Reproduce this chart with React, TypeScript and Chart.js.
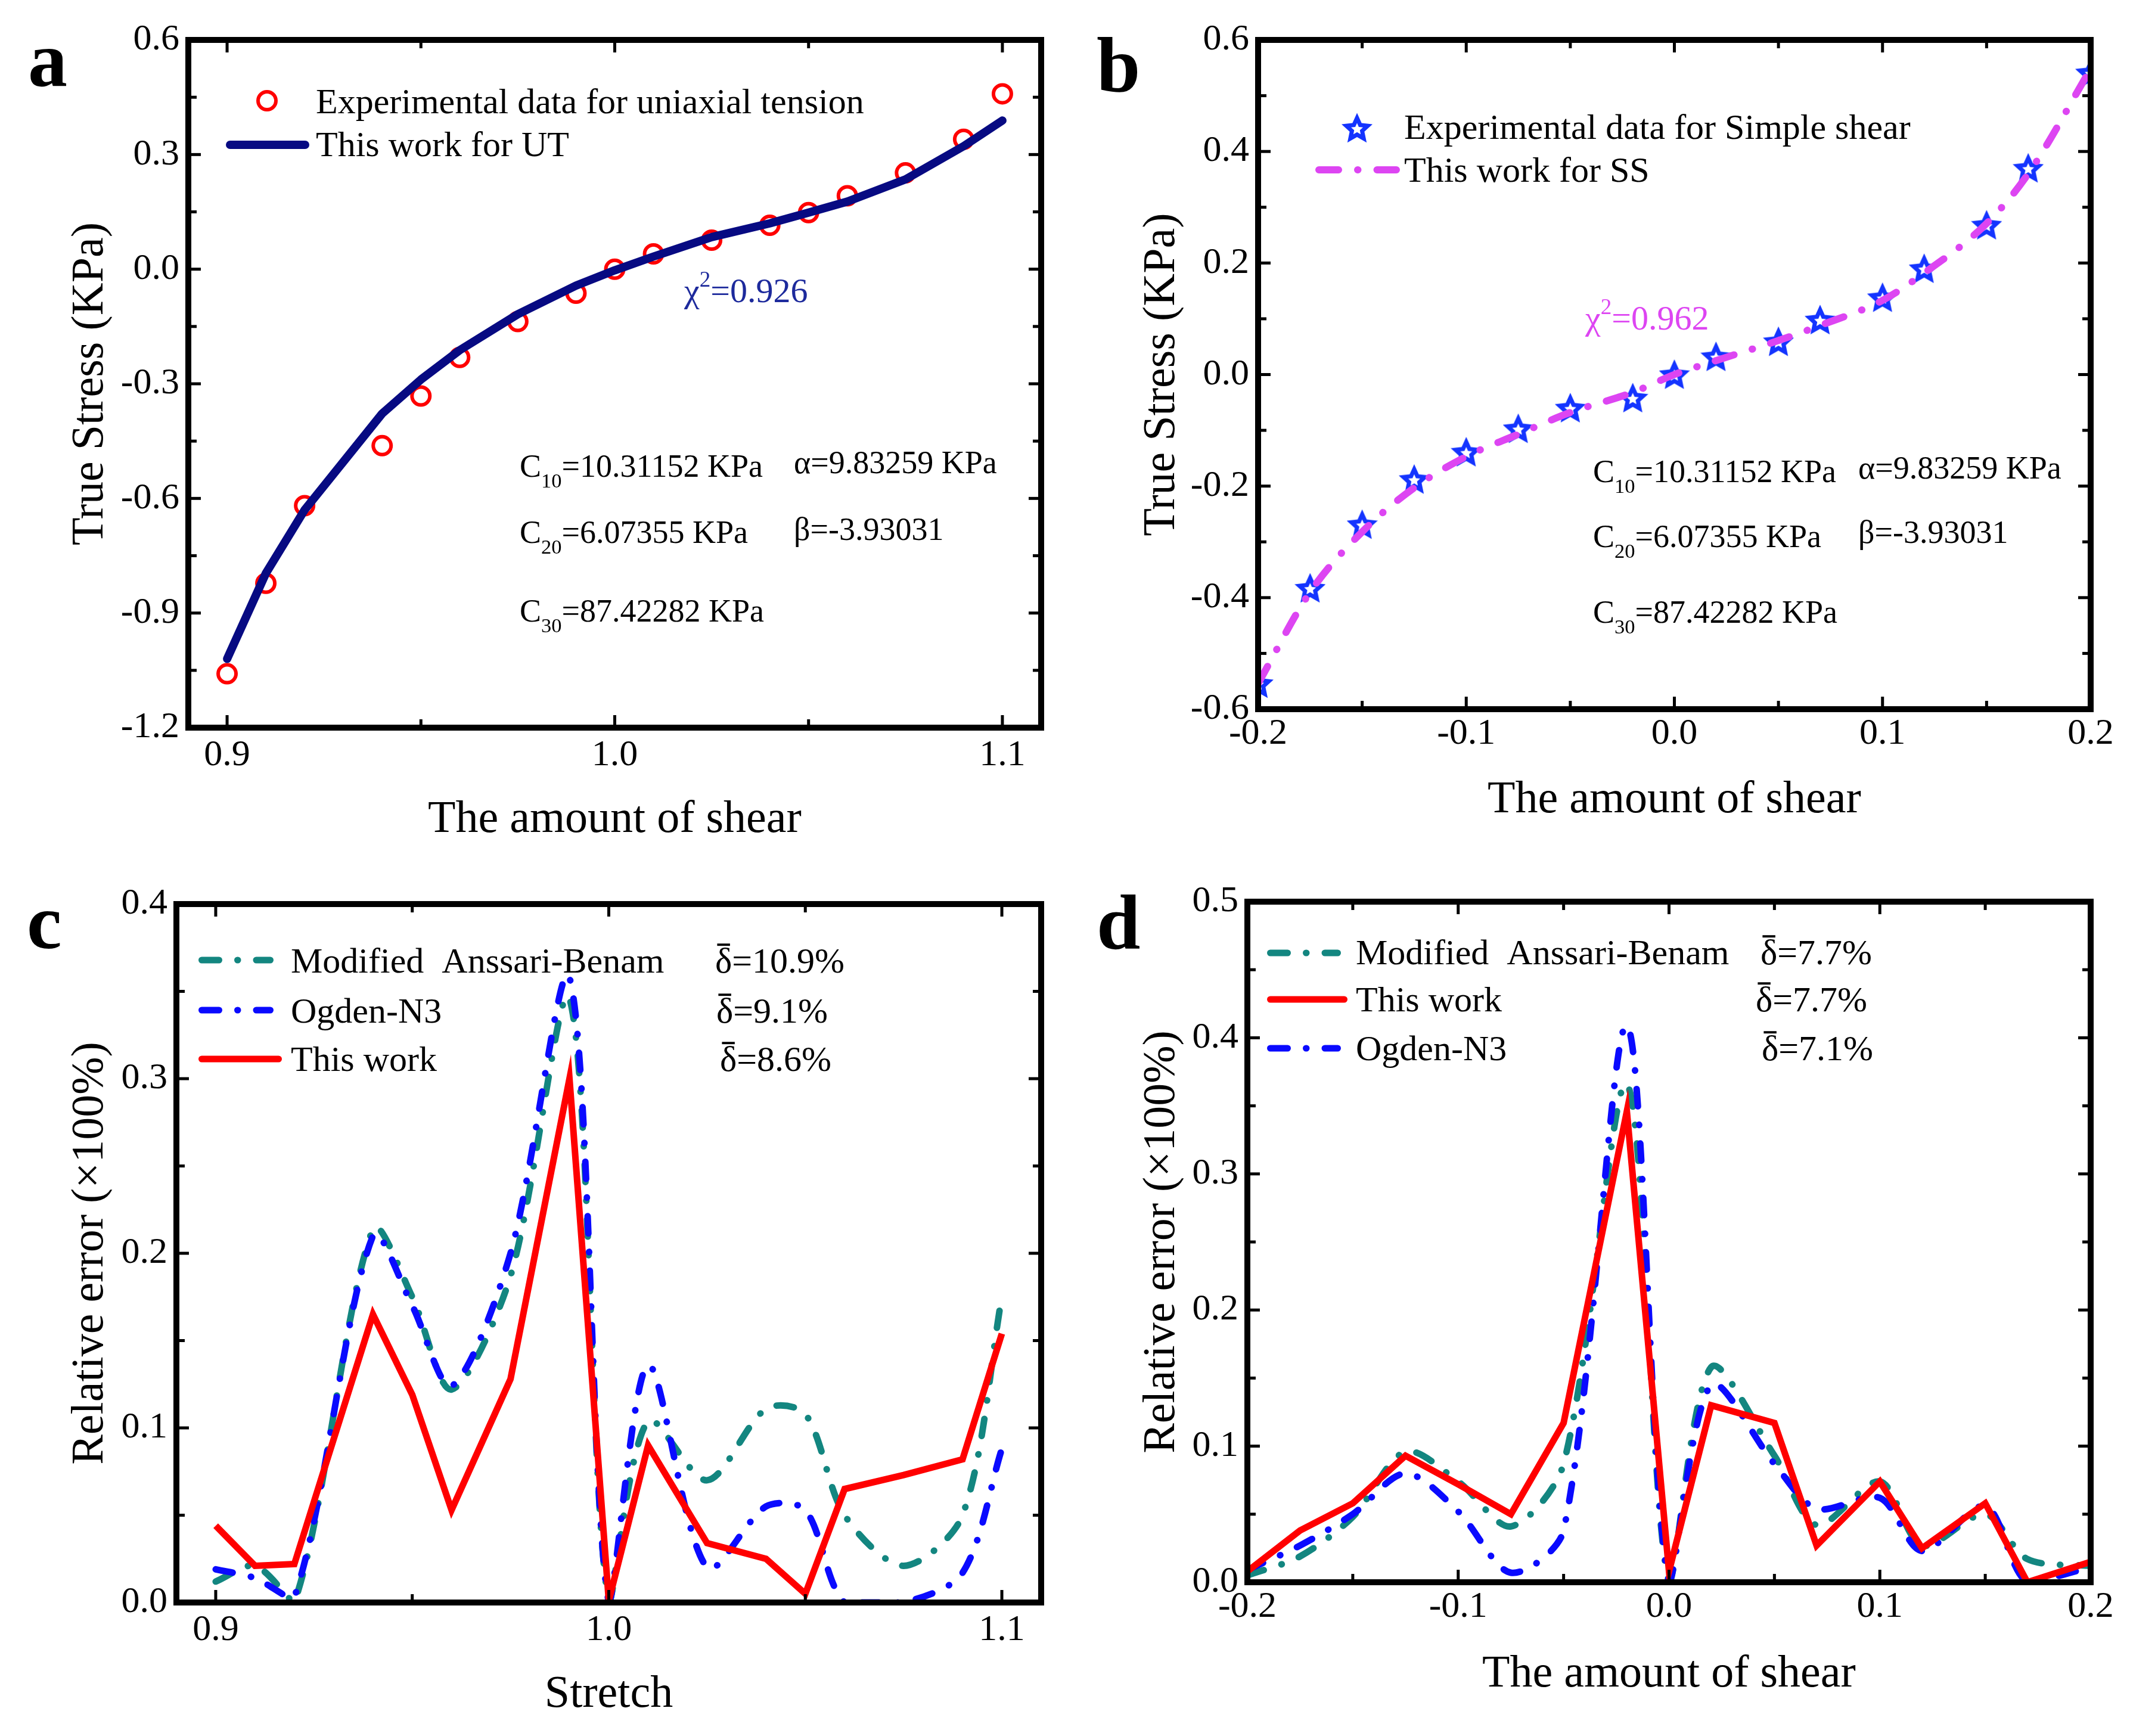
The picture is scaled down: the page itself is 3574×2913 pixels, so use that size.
import { useEffect, useRef } from "react";
import { Chart, registerables } from "chart.js";

Chart.register(...registerables);

const SERIF = '"Liberation Serif", "Times New Roman", Times, serif';
Chart.defaults.font.family = SERIF;
Chart.defaults.color = "#000";

// ---------- Panel a: uniaxial tension ----------
const utStretch = [0.9, 0.91, 0.92, 0.94, 0.95, 0.96, 0.975, 0.99, 1.0, 1.01, 1.025, 1.04, 1.05, 1.06, 1.075, 1.09, 1.1];
const utExperimental = [-1.059, -0.822, -0.619, -0.462, -0.332, -0.231, -0.137, -0.063, 0.0, 0.04, 0.076, 0.115, 0.148, 0.192, 0.252, 0.34, 0.459];
const utModel = [-1.02, -0.796, -0.63, -0.378, -0.289, -0.212, -0.118, -0.043, -0.003, 0.033, 0.084, 0.12, 0.148, 0.177, 0.235, 0.322, 0.389];

// ---------- Panel b: simple shear ----------
const ssShear = [-0.2, -0.175, -0.15, -0.125, -0.1, -0.075, -0.05, -0.02, 0, 0.02, 0.05, 0.07, 0.1, 0.12, 0.15, 0.17, 0.2];
const ssExperimental = [-0.554, -0.383, -0.269, -0.188, -0.139, -0.097, -0.06, -0.042, 0.0, 0.032, 0.059, 0.098, 0.138, 0.19, 0.268, 0.37, 0.541];
const ssModel = [-0.554, -0.39, -0.282, -0.203, -0.147, -0.107, -0.068, -0.032, 0.0, 0.025, 0.061, 0.088, 0.133, 0.182, 0.271, 0.36, 0.548];

// ---------- Panel c: relative error, uniaxial tension ----------
const errUtAnssari = [0.012, 0.021, 0.0, 0.214, 0.175, 0.122, 0.187, 0.346, 0.0, 0.104, 0.07, 0.111, 0.108, 0.05, 0.021, 0.05, 0.175];
const errUtOgden = [0.019, 0.014, 0.003, 0.21, 0.17, 0.124, 0.2, 0.358, 0.0, 0.136, 0.02, 0.055, 0.053, 0.0, 0.0, 0.017, 0.088];
const errUtThisWork = [0.044, 0.021, 0.022, 0.165, 0.119, 0.053, 0.128, 0.3, 0.001, 0.09, 0.034, 0.025, 0.005, 0.065, 0.073, 0.082, 0.154];

// ---------- Panel d: relative error, simple shear ----------
const errSsAnssari = [0.005, 0.019, 0.048, 0.096, 0.074, 0.041, 0.087, 0.366, 0.0, 0.158, 0.093, 0.042, 0.074, 0.027, 0.05, 0.017, 0.012];
const errSsThisWork = [0.008, 0.038, 0.058, 0.093, 0.072, 0.05, 0.117, 0.346, 0.008, 0.13, 0.117, 0.027, 0.074, 0.025, 0.058, 0.0, 0.015];
const errSsOgden = [0.009, 0.027, 0.05, 0.08, 0.052, 0.007, 0.038, 0.409, 0.0, 0.145, 0.087, 0.054, 0.062, 0.023, 0.056, 0.0, 0.011];

// ---------- Axis ticks ----------
const aXTicks = [0.9, 1.0, 1.1];
const aXMinor = [0.95, 1.05];
const aYTicks = [0.6, 0.3, 0, -0.3, -0.6, -0.9, -1.2];
const aYMinor = [0.45, 0.15, -0.15, -0.45, -0.75, -1.05];
const bXTicks = [-0.2, -0.1, 0, 0.1, 0.2];
const bXMinor = [-0.15, -0.05, 0.05, 0.15];
const bYTicks = [0.6, 0.4, 0.2, 0, -0.2, -0.4, -0.6];
const bYMinor = [0.5, 0.3, 0.1, -0.1, -0.3, -0.5];
const cXTicks = [0.9, 1.0, 1.1];
const cXMinor = [0.95, 1.05];
const cYTicks = [0, 0.1, 0.2, 0.3, 0.4];
const cYMinor = [0.05, 0.15, 0.25, 0.35];
const dXTicks = [-0.2, -0.1, 0, 0.1, 0.2];
const dXMinor = [-0.15, -0.05, 0.05, 0.15];
const dYTicks = [0, 0.1, 0.2, 0.3, 0.4, 0.5];
const dYMinor = [0.05, 0.15, 0.25, 0.35, 0.45];

// ---------- Styles ----------
const RED = "#ff0000";
const NAVY = "#070a82";
const MAGENTA = "#dd45f2";
const STAR_BLUE = "#1434ff";
const TEAL = "#138680";
const BLUE = "#0a0aff";
const CHI_BLUE = "#1d2a9c";
const DASH_SS = [33, 32, 0.5, 32];
const DASH_ERR = [29, 31, 0.5, 31];

type Run = { t: string; k?: "sub" | "sup" | "bar" };
type Note = { x: number; y: number; size: number; color: string; runs: Run[] };
type LegendItem = {
  sample: "circle" | "star" | "line";
  x0: number;
  x1: number;
  y: number;
  color: string;
  width?: number;
  dash?: number[];
  text: string;
  tx: number;
  ty: number;
};
type PanelSpec = {
  id: string;
  left: number;
  top: number;
  w: number;
  h: number;
  area: { left: number; top: number; right: number; bottom: number };
  xRange: [number, number];
  yRange: [number, number];
  xTicks: number[];
  xMinor: number[];
  yTicks: number[];
  yMinor: number[];
  xTitle: string;
  yTitle: string;
  xTitlePad: number;
  yTitlePad: number;
  xTickPad: number;
  letter: { t: string; x: number; y: number };
  legend: LegendItem[];
  notes: Note[];
  datasets: () => any[];
};

function pairs(xs: number[], ys: number[]) {
  return xs.map((x, i) => ({ x, y: ys[i] }));
}

let starCache: HTMLCanvasElement | null = null;
function starMarker(): HTMLCanvasElement {
  if (starCache) return starCache;
  const outer = 19;
  const inner = 9;
  const lw = 7;
  const size = Math.ceil(2 * outer + 2 * lw);
  const c = document.createElement("canvas");
  c.width = size;
  c.height = size;
  const g = c.getContext("2d")!;
  g.strokeStyle = STAR_BLUE;
  g.lineWidth = lw;
  g.lineJoin = "miter";
  g.miterLimit = 3;
  const cx = size / 2;
  const cy = size / 2 + outer * 0.1;
  g.beginPath();
  for (let i = 0; i < 10; i++) {
    const r = i % 2 === 0 ? outer : inner;
    const ang = -Math.PI / 2 + (i * Math.PI) / 5;
    const px = cx + r * Math.cos(ang);
    const py = cy + r * Math.sin(ang);
    if (i === 0) g.moveTo(px, py);
    else g.lineTo(px, py);
  }
  g.closePath();
  g.stroke();
  starCache = c;
  return c;
}

function drawRuns(ctx: CanvasRenderingContext2D, n: Note) {
  ctx.fillStyle = n.color;
  ctx.strokeStyle = n.color;
  ctx.textAlign = "left";
  ctx.textBaseline = "alphabetic";
  let cx = n.x;
  for (const r of n.runs) {
    const small = r.k === "sub" || r.k === "sup";
    const fs = small ? n.size * 0.64 : n.size;
    ctx.font = `${fs}px ${SERIF}`;
    const dy = r.k === "sub" ? n.size * 0.34 : r.k === "sup" ? -n.size * 0.44 : 0;
    ctx.fillText(r.t, cx, n.y + dy);
    const w = ctx.measureText(r.t).width;
    if (r.k === "bar") {
      ctx.lineWidth = n.size * 0.065;
      ctx.beginPath();
      ctx.moveTo(cx + w * 0.12, n.y - n.size * 0.78);
      ctx.lineTo(cx + w * 0.88, n.y - n.size * 0.78);
      ctx.stroke();
    }
    cx += w;
  }
}

function decor(p: PanelSpec) {
  return {
    id: "decor-" + p.id,
    afterDatasetsDraw(chart: any) {
      const ctx: CanvasRenderingContext2D = chart.ctx;
      const a = chart.chartArea;
      const xs = chart.scales.x;
      const ys = chart.scales.y;
      ctx.save();
      ctx.strokeStyle = "#000";
      ctx.lineCap = "butt";
      ctx.lineWidth = 5;
      const seg = (x0: number, y0: number, x1: number, y1: number) => {
        ctx.beginPath();
        ctx.moveTo(x0, y0);
        ctx.lineTo(x1, y1);
        ctx.stroke();
      };
      const xMarks = (vals: number[], len: number) => {
        for (const v of vals) {
          const px = xs.getPixelForValue(v);
          seg(px, a.bottom, px, a.bottom - len);
          seg(px, a.top, px, a.top + len);
        }
      };
      const yMarks = (vals: number[], len: number) => {
        for (const v of vals) {
          const py = ys.getPixelForValue(v);
          seg(a.left, py, a.left + len, py);
          seg(a.right, py, a.right - len, py);
        }
      };
      xMarks(p.xTicks, 21);
      xMarks(p.xMinor, 14);
      yMarks(p.yTicks, 21);
      yMarks(p.yMinor, 14);
      ctx.lineWidth = 10;
      ctx.lineJoin = "miter";
      ctx.strokeRect(a.left, a.top, a.right - a.left, a.bottom - a.top);
      ctx.restore();
    },
    afterDraw(chart: any) {
      const ctx: CanvasRenderingContext2D = chart.ctx;
      ctx.save();
      // panel letter
      ctx.fillStyle = "#000";
      ctx.font = `bold 132px ${SERIF}`;
      ctx.textAlign = "left";
      ctx.textBaseline = "alphabetic";
      ctx.fillText(p.letter.t, p.letter.x, p.letter.y);
      // legend
      for (const it of p.legend) {
        const cx = (it.x0 + it.x1) / 2;
        if (it.sample === "line") {
          const lw = it.width || 10;
          ctx.save();
          ctx.strokeStyle = it.color;
          ctx.lineWidth = lw;
          ctx.lineCap = "round";
          ctx.setLineDash(it.dash || []);
          ctx.beginPath();
          ctx.moveTo(it.x0 + lw / 2, it.y);
          ctx.lineTo(it.x1 - lw / 2, it.y);
          ctx.stroke();
          ctx.restore();
        } else if (it.sample === "circle") {
          ctx.save();
          ctx.strokeStyle = it.color;
          ctx.lineWidth = 6;
          ctx.beginPath();
          ctx.arc(cx, it.y, 15, 0, Math.PI * 2);
          ctx.stroke();
          ctx.restore();
        } else {
          const s = starMarker();
          ctx.drawImage(s, cx - s.width / 2, it.y - s.height / 2);
        }
        ctx.fillStyle = "#000";
        ctx.font = `60px ${SERIF}`;
        ctx.fillText(it.text, it.tx, it.ty);
      }
      for (const n of p.notes) drawRuns(ctx, n);
      ctx.restore();
    },
  };
}

function buildConfig(p: PanelSpec): any {
  const xAxisHeight = p.h - p.area.bottom;
  const fmt = (v: any) => Number(v).toFixed(1);
  return {
    type: "line",
    data: { datasets: p.datasets() },
    options: {
      responsive: false,
      maintainAspectRatio: false,
      animation: false,
      devicePixelRatio: 1,
      events: [],
      layout: { padding: { left: 0, top: p.area.top, right: p.w - p.area.right, bottom: 0 } },
      plugins: { legend: { display: false }, tooltip: { enabled: false }, title: { display: false } },
      scales: {
        x: {
          type: "linear",
          position: "bottom",
          min: p.xRange[0],
          max: p.xRange[1],
          grid: { display: false, drawTicks: false },
          border: { display: false },
          afterBuildTicks: (s: any) => {
            s.ticks = p.xTicks.map((v) => ({ value: v }));
          },
          afterFit: (s: any) => {
            s.height = xAxisHeight;
          },
          ticks: {
            padding: p.xTickPad,
            color: "#000",
            font: { family: SERIF, size: 62 },
            maxRotation: 0,
            autoSkip: false,
            callback: fmt,
          },
          title: {
            display: true,
            text: p.xTitle,
            color: "#000",
            font: { family: SERIF, size: 76 },
            padding: { top: 0, bottom: p.xTitlePad },
          },
        },
        y: {
          type: "linear",
          position: "left",
          min: p.yRange[0],
          max: p.yRange[1],
          grid: { display: false, drawTicks: false },
          border: { display: false },
          afterBuildTicks: (s: any) => {
            s.ticks = p.yTicks.map((v) => ({ value: v }));
          },
          afterFit: (s: any) => {
            s.width = p.area.left;
          },
          ticks: {
            padding: 15,
            color: "#000",
            font: { family: SERIF, size: 62 },
            autoSkip: false,
            callback: fmt,
          },
          title: {
            display: true,
            text: p.yTitle,
            color: "#000",
            font: { family: SERIF, size: 76 },
            padding: { top: p.yTitlePad, bottom: 0 },
          },
        },
      },
    },
    plugins: [decor(p)],
  };
}

const noteFont = 54;
const constantNotes = (x1: number, x2: number, y1: number, y1b: number, y2: number, y2b: number, y3: number): Note[] => [
  { x: x1, y: y1, size: noteFont, color: "#000", runs: [{ t: "C" }, { t: "10", k: "sub" }, { t: "=10.31152 KPa" }] },
  { x: x2, y: y1b, size: noteFont, color: "#000", runs: [{ t: "α=9.83259 KPa" }] },
  { x: x1, y: y2, size: noteFont, color: "#000", runs: [{ t: "C" }, { t: "20", k: "sub" }, { t: "=6.07355 KPa" }] },
  { x: x2, y: y2b, size: noteFont, color: "#000", runs: [{ t: "β=-3.93031" }] },
  { x: x1, y: y3, size: noteFont, color: "#000", runs: [{ t: "C" }, { t: "30", k: "sub" }, { t: "=87.42282 KPa" }] },
];

const deltaNote = (x: number, y: number, value: string): Note => ({
  x,
  y,
  size: 60,
  color: "#000",
  runs: [{ t: "δ", k: "bar" }, { t: "=" + value }],
});

const PANELS: PanelSpec[] = [
  {
    id: "a",
    left: 0,
    top: 0,
    w: 1787,
    h: 1456,
    area: { left: 316, top: 67, right: 1747, bottom: 1221 },
    xRange: [0.89, 1.11],
    yRange: [-1.2, 0.6],
    xTicks: aXTicks,
    xMinor: aXMinor,
    yTicks: aYTicks,
    yMinor: aYMinor,
    xTitle: "The amount of shear",
    yTitle: "True Stress (KPa)",
    xTitlePad: 34,
    yTitlePad: 106,
    xTickPad: 10,
    letter: { t: "a", x: 47, y: 144 },
    legend: [
      { sample: "circle", x0: 434, x1: 462, y: 169, color: RED, text: "Experimental data for uniaxial tension", tx: 530, ty: 190 },
      { sample: "line", x0: 379, x1: 519, y: 243, color: NAVY, width: 14, text: "This work for UT", tx: 530, ty: 262 },
    ],
    notes: [
      { x: 1148, y: 507, size: 58, color: CHI_BLUE, runs: [{ t: "χ" }, { t: "2", k: "sup" }, { t: "=0.926" }] },
      ...constantNotes(872, 1332, 800, 794, 911, 906, 1043),
    ],
    datasets: () => [
      {
        label: "This work for UT",
        data: pairs(utStretch, utModel),
        borderColor: NAVY,
        borderWidth: 14,
        borderCapStyle: "round",
        borderJoinStyle: "round",
        pointRadius: 0,
        tension: 0,
        order: 0,
      },
      {
        label: "Experimental data for uniaxial tension",
        data: pairs(utStretch, utExperimental),
        showLine: false,
        borderColor: RED,
        pointStyle: "circle",
        pointRadius: 15,
        pointBorderWidth: 6,
        pointBorderColor: RED,
        pointBackgroundColor: "rgba(255,255,255,0)",
        order: 1,
      },
    ],
  },
  {
    id: "b",
    left: 1787,
    top: 0,
    w: 1787,
    h: 1456,
    area: { left: 324, top: 67, right: 1721, bottom: 1190 },
    xRange: [-0.2, 0.2],
    yRange: [-0.6, 0.6],
    xTicks: bXTicks,
    xMinor: bXMinor,
    yTicks: bYTicks,
    yMinor: bYMinor,
    xTitle: "The amount of shear",
    yTitle: "True Stress (KPa)",
    xTitlePad: 67,
    yTitlePad: 117,
    xTickPad: 5,
    letter: { t: "b", x: 53, y: 153 },
    legend: [
      { sample: "star", x0: 476, x1: 504, y: 215, color: STAR_BLUE, text: "Experimental data for Simple shear", tx: 569, ty: 233 },
      { sample: "line", x0: 420, x1: 562, y: 285, color: MAGENTA, width: 12, dash: DASH_SS, text: "This work for SS", tx: 569, ty: 305 },
    ],
    notes: [
      { x: 873, y: 553, size: 58, color: MAGENTA, runs: [{ t: "χ" }, { t: "2", k: "sup" }, { t: "=0.962" }] },
      ...constantNotes(886, 1331, 809, 803, 918, 911, 1045),
    ],
    datasets: () => [
      {
        label: "This work for SS",
        data: pairs(ssShear, ssModel),
        borderColor: MAGENTA,
        borderWidth: 12,
        borderDash: DASH_SS,
        borderCapStyle: "round",
        pointRadius: 0,
        cubicInterpolationMode: "monotone",
        order: 0,
      },
      {
        label: "Experimental data for Simple shear",
        data: pairs(ssShear, ssExperimental),
        showLine: false,
        borderColor: STAR_BLUE,
        pointStyle: starMarker(),
        pointRadius: 20,
        order: 1,
      },
    ],
  },
  {
    id: "c",
    left: 0,
    top: 1456,
    w: 1787,
    h: 1457,
    area: { left: 296, top: 61, right: 1747, bottom: 1233 },
    xRange: [0.89, 1.11],
    yRange: [0, 0.4],
    xTicks: cXTicks,
    xMinor: cXMinor,
    yTicks: cYTicks,
    yMinor: cYMinor,
    xTitle: "Stretch",
    yTitle: "Relative error (×100%)",
    xTitlePad: 23,
    yTitlePad: 106,
    xTickPad: 10,
    letter: { t: "c", x: 45, y: 135 },
    legend: [
      { sample: "line", x0: 333, x1: 459, y: 155, color: TEAL, width: 11, dash: DASH_ERR, text: "Modified  Anssari-Benam", tx: 488, ty: 176 },
      { sample: "line", x0: 333, x1: 459, y: 239, color: BLUE, width: 11, dash: DASH_ERR, text: "Ogden-N3", tx: 488, ty: 260 },
      { sample: "line", x0: 333, x1: 473, y: 321, color: RED, width: 11, text: "This work", tx: 488, ty: 341 },
    ],
    notes: [deltaNote(1200, 176, "10.9%"), deltaNote(1202, 260, "9.1%"), deltaNote(1208, 341, "8.6%")],
    datasets: () => [
      {
        label: "This work",
        data: pairs(utStretch, errUtThisWork),
        borderColor: RED,
        borderWidth: 11,
        pointRadius: 0,
        tension: 0,
        order: 0,
      },
      {
        label: "Ogden-N3",
        data: pairs(utStretch, errUtOgden),
        borderColor: BLUE,
        borderWidth: 11,
        borderDash: DASH_ERR,
        borderCapStyle: "round",
        pointRadius: 0,
        tension: 0.3,
        order: 1,
      },
      {
        label: "Modified  Anssari-Benam",
        data: pairs(utStretch, errUtAnssari),
        borderColor: TEAL,
        borderWidth: 11,
        borderDash: DASH_ERR,
        borderCapStyle: "round",
        pointRadius: 0,
        tension: 0.3,
        order: 2,
      },
    ],
  },
  {
    id: "d",
    left: 1787,
    top: 1456,
    w: 1787,
    h: 1457,
    area: { left: 306, top: 57, right: 1721, bottom: 1199 },
    xRange: [-0.2, 0.2],
    yRange: [0, 0.5],
    xTicks: dXTicks,
    xMinor: dXMinor,
    yTicks: dYTicks,
    yMinor: dYMinor,
    xTitle: "The amount of shear",
    yTitle: "Relative error (×100%)",
    xTitlePad: 57,
    yTitlePad: 117,
    xTickPad: 5,
    letter: { t: "d", x: 53, y: 136 },
    legend: [
      { sample: "line", x0: 339, x1: 463, y: 143, color: TEAL, width: 11, dash: DASH_ERR, text: "Modified  Anssari-Benam", tx: 488, ty: 162 },
      { sample: "line", x0: 339, x1: 474, y: 221, color: RED, width: 11, text: "This work", tx: 488, ty: 241 },
      { sample: "line", x0: 339, x1: 463, y: 303, color: BLUE, width: 11, dash: DASH_ERR, text: "Ogden-N3", tx: 488, ty: 323 },
    ],
    notes: [deltaNote(1167, 162, "7.7%"), deltaNote(1159, 241, "7.7%"), deltaNote(1169, 323, "7.1%")],
    datasets: () => [
      {
        label: "This work",
        data: pairs(ssShear, errSsThisWork),
        borderColor: RED,
        borderWidth: 11,
        pointRadius: 0,
        tension: 0,
        order: 0,
      },
      {
        label: "Ogden-N3",
        data: pairs(ssShear, errSsOgden),
        borderColor: BLUE,
        borderWidth: 11,
        borderDash: DASH_ERR,
        borderCapStyle: "round",
        pointRadius: 0,
        tension: 0.3,
        order: 1,
      },
      {
        label: "Modified  Anssari-Benam",
        data: pairs(ssShear, errSsAnssari),
        borderColor: TEAL,
        borderWidth: 11,
        borderDash: DASH_ERR,
        borderCapStyle: "round",
        pointRadius: 0,
        tension: 0.3,
        order: 2,
      },
    ],
  },
];

function Panel({ spec }: { spec: PanelSpec }) {
  const ref = useRef<HTMLCanvasElement>(null);
  useEffect(() => {
    if (!ref.current) return;
    const chart = new Chart(ref.current, buildConfig(spec));
    return () => chart.destroy();
  }, [spec]);
  return (
    <canvas
      ref={ref}
      width={spec.w}
      height={spec.h}
      style={{ position: "absolute", left: spec.left, top: spec.top, width: spec.w, height: spec.h }}
    />
  );
}

export default function App() {
  return (
    <div style={{ position: "absolute", left: 0, top: 0, width: 3574, height: 2913, background: "#fff", overflow: "hidden" }}>
      {PANELS.map((p) => (
        <Panel key={p.id} spec={p} />
      ))}
    </div>
  );
}
